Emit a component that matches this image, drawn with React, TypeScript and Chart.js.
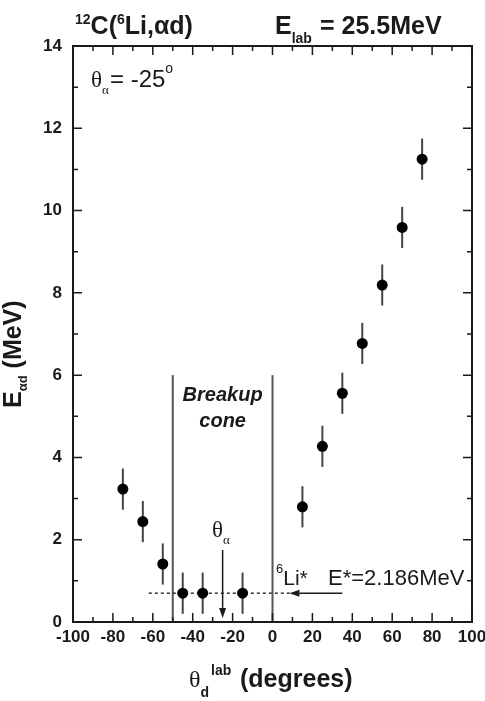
import React, { useEffect, useRef } from "react";
import { Chart, registerables } from "chart.js";

Chart.register(...registerables);

// ---- data ----
const thetaD = [-75, -65, -55, -45, -35, -15, 15, 25, 35, 45, 55, 65, 75];
const energyAD = [3.23, 2.44, 1.41, 0.7, 0.7, 0.7, 2.8, 4.27, 5.56, 6.77, 8.19, 9.59, 11.25];
const energyErr = [0.5, 0.5, 0.5, 0.5, 0.5, 0.5, 0.5, 0.5, 0.5, 0.5, 0.5, 0.5, 0.5];

const xRange = [-100, 100];
const yRange = [0, 14];
const xStep = 20;
const yStep = 2;

const coneEdges = [-50, 0];
const coneTop = 6.0;
const thetaAlpha = -25;
const thetaArrowE = [1.75, 0.1];
const liThresholdE = 0.7;
const dashedX = [-62, 9];
const liArrowX = [35, 8.5];

const SANS = '"Liberation Sans", Arial, Helvetica, sans-serif';
const SERIF = '"Liberation Serif", "Times New Roman", serif';
const INK = "#1a1a1a";

type Run = { t: string; f: string; dy?: number; x?: number };

function drawRuns(ctx: CanvasRenderingContext2D, x: number, y: number, runs: Run[]) {
  let cx = x;
  for (const r of runs) {
    ctx.font = r.f;
    if (r.x !== undefined) cx = r.x;
    ctx.fillText(r.t, cx, y + (r.dy || 0));
    cx += ctx.measureText(r.t).width;
  }
}

function arrow(ctx: CanvasRenderingContext2D, x1: number, y1: number, x2: number, y2: number, head: number, hw: number) {
  const ang = Math.atan2(y2 - y1, x2 - x1);
  const bx = x2 - head * Math.cos(ang);
  const by = y2 - head * Math.sin(ang);
  ctx.beginPath();
  ctx.moveTo(x1, y1);
  ctx.lineTo(bx, by);
  ctx.stroke();
  ctx.beginPath();
  ctx.moveTo(x2, y2);
  ctx.lineTo(bx + hw * Math.sin(ang), by - hw * Math.cos(ang));
  ctx.lineTo(bx - hw * Math.sin(ang), by + hw * Math.cos(ang));
  ctx.closePath();
  ctx.fill();
}

const decorPlugin = {
  id: "decor",
  beforeDatasetsDraw(chart: any) {
    const ctx = chart.ctx as CanvasRenderingContext2D;
    const xs = chart.scales.x;
    const ys = chart.scales.y;
    ctx.save();
    // cone edges
    ctx.strokeStyle = "#555";
    ctx.lineWidth = 2;
    for (const c of coneEdges) {
      const px = xs.getPixelForValue(c);
      ctx.beginPath();
      ctx.moveTo(px, ys.getPixelForValue(0));
      ctx.lineTo(px, ys.getPixelForValue(coneTop));
      ctx.stroke();
    }
    // dashed threshold line
    ctx.strokeStyle = "#333";
    ctx.lineWidth = 1.5;
    ctx.setLineDash([3, 3]);
    const yl = ys.getPixelForValue(liThresholdE);
    ctx.beginPath();
    ctx.moveTo(xs.getPixelForValue(dashedX[0]), yl);
    ctx.lineTo(xs.getPixelForValue(dashedX[1]), yl);
    ctx.stroke();
    ctx.setLineDash([]);
    // error bars
    ctx.strokeStyle = "#444";
    ctx.lineWidth = 2;
    thetaD.forEach((t, i) => {
      const px = xs.getPixelForValue(t);
      ctx.beginPath();
      ctx.moveTo(px, ys.getPixelForValue(energyAD[i] - energyErr[i]));
      ctx.lineTo(px, ys.getPixelForValue(energyAD[i] + energyErr[i]));
      ctx.stroke();
    });
    ctx.restore();
  },
  afterDraw(chart: any) {
    const ctx = chart.ctx as CanvasRenderingContext2D;
    const xs = chart.scales.x;
    const ys = chart.scales.y;
    const a = chart.chartArea;
    ctx.save();
    // frame
    ctx.strokeStyle = INK;
    ctx.lineWidth = 2;
    ctx.strokeRect(a.left, a.top, a.right - a.left, a.bottom - a.top);
    // inward ticks
    ctx.lineWidth = 1.5;
    for (let v = xRange[0]; v <= xRange[1]; v += xStep / 2) {
      const len = (v - xRange[0]) % xStep === 0 ? 9 : 5;
      const px = xs.getPixelForValue(v);
      ctx.beginPath();
      ctx.moveTo(px, a.bottom);
      ctx.lineTo(px, a.bottom - len);
      ctx.moveTo(px, a.top);
      ctx.lineTo(px, a.top + len);
      ctx.stroke();
    }
    for (let v = yRange[0]; v <= yRange[1]; v += yStep / 2) {
      const len = (v - yRange[0]) % yStep === 0 ? 9 : 5;
      const py = ys.getPixelForValue(v);
      ctx.beginPath();
      ctx.moveTo(a.left, py);
      ctx.lineTo(a.left + len, py);
      ctx.moveTo(a.right, py);
      ctx.lineTo(a.right - len, py);
      ctx.stroke();
    }
    // arrows
    ctx.strokeStyle = INK;
    ctx.fillStyle = INK;
    ctx.lineWidth = 1.5;
    const ax = xs.getPixelForValue(thetaAlpha);
    arrow(ctx, ax, ys.getPixelForValue(thetaArrowE[0]), ax, ys.getPixelForValue(thetaArrowE[1]), 10, 3.5);
    const yl = ys.getPixelForValue(liThresholdE);
    arrow(ctx, xs.getPixelForValue(liArrowX[0]), yl, xs.getPixelForValue(liArrowX[1]), yl, 10, 3.5);

    ctx.textBaseline = "alphabetic";
    ctx.textAlign = "left";
    ctx.fillStyle = INK;
    // top title
    drawRuns(ctx, 75, 34, [
      { t: "12", f: `bold 14px ${SANS}`, dy: -10 },
      { t: "C(", f: `bold 25px ${SANS}` },
      { t: "6", f: `bold 14px ${SANS}`, dy: -10 },
      { t: "Li,", f: `bold 25px ${SANS}` },
      { t: "α", f: `bold 25px ${SANS}` },
      { t: "d)", f: `bold 25px ${SANS}` },
    ]);
    drawRuns(ctx, 275, 34, [
      { t: "E", f: `bold 25px ${SANS}` },
      { t: "lab", f: `bold 14px ${SANS}`, dy: 9 },
      { t: "= 25.5MeV", f: `bold 25px ${SANS}`, x: 320 },
    ]);
    // theta alpha = -25
    drawRuns(ctx, 91, 87, [
      { t: "θ", f: `23px ${SERIF}` },
      { t: "α", f: `13px ${SERIF}`, dy: 7 },
      { t: "= -25", f: `24px ${SANS}`, x: 110 },
      { t: "o", f: `14px ${SANS}`, dy: -14 },
    ]);
    // breakup cone
    const cx = xs.getPixelForValue((coneEdges[0] + coneEdges[1]) / 2);
    ctx.textAlign = "center";
    ctx.font = `italic bold 20px ${SANS}`;
    ctx.fillText("Breakup", cx, 401);
    ctx.fillText("cone", cx, 427);
    ctx.textAlign = "left";
    // theta alpha label near arrow
    drawRuns(ctx, 212, 537, [
      { t: "θ", f: `23px ${SERIF}` },
      { t: "α", f: `13px ${SERIF}`, dy: 7 },
    ]);
    // 6Li* label
    drawRuns(ctx, 276, 585, [
      { t: "6", f: `13px ${SANS}`, dy: -12 },
      { t: "Li*", f: `21px ${SANS}` },
      { t: "E*=2.186MeV", f: `22px ${SANS}`, x: 328 },
    ]);
    // x axis title
    drawRuns(ctx, 189, 687, [
      { t: "θ", f: `24px ${SERIF}` },
      { t: "d", f: `bold 14px ${SANS}`, dy: 10 },
      { t: "lab", f: `bold 14px ${SANS}`, dy: -12, x: 211 },
      { t: "(degrees)", f: `bold 25px ${SANS}`, x: 240 },
    ]);
    // y axis title (rotated)
    ctx.save();
    ctx.translate(21, 408);
    ctx.rotate(-Math.PI / 2);
    drawRuns(ctx, 0, 0, [
      { t: "E", f: `bold 25px ${SANS}` },
      { t: "αd", f: `bold 13px ${SANS}`, dy: 6 },
      { t: " (MeV)", f: `bold 25px ${SANS}` },
    ]);
    ctx.restore();
    ctx.restore();
  },
};

export default function App() {
  const ref = useRef<HTMLCanvasElement | null>(null);
  useEffect(() => {
    if (!ref.current) return;
    const chart = new Chart(ref.current, {
      type: "scatter",
      data: {
        datasets: [
          {
            label: "E_ad",
            data: thetaD.map((t, i) => ({ x: t, y: energyAD[i] })),
            backgroundColor: "#000",
            borderColor: "#000",
            pointRadius: 5.5,
            pointHoverRadius: 5.5,
            borderWidth: 0,
          },
        ],
      },
      options: {
        animation: false,
        responsive: true,
        maintainAspectRatio: false,
        layout: { padding: { top: 46, right: 13, left: 0, bottom: 0 } },
        plugins: { legend: { display: false }, tooltip: { enabled: false } },
        scales: {
          x: {
            type: "linear",
            min: xRange[0],
            max: xRange[1],
            grid: { display: false, drawTicks: false },
            border: { display: false },
            ticks: {
              stepSize: xStep,
              padding: 5,
              color: INK,
              font: { family: SANS, size: 17, weight: "bold" },
              maxRotation: 0,
              autoSkip: false,
            },
            afterFit: (s: any) => {
              s.height = 79;
              s.paddingLeft = 0;
              s.paddingRight = 0;
            },
          },
          y: {
            type: "linear",
            min: yRange[0],
            max: yRange[1],
            grid: { display: false, drawTicks: false },
            border: { display: false },
            ticks: {
              stepSize: yStep,
              padding: 11,
              color: INK,
              font: { family: SANS, size: 17, weight: "bold" },
            },
            afterFit: (s: any) => {
              s.width = 73;
              s.paddingTop = 0;
              s.paddingBottom = 0;
            },
          },
        },
      },
      plugins: [decorPlugin],
    });
    return () => chart.destroy();
  }, []);
  return (
    <div style={{ position: "absolute", left: 0, top: 0, width: 485, height: 701, background: "#fff" }}>
      <canvas ref={ref} />
    </div>
  );
}
